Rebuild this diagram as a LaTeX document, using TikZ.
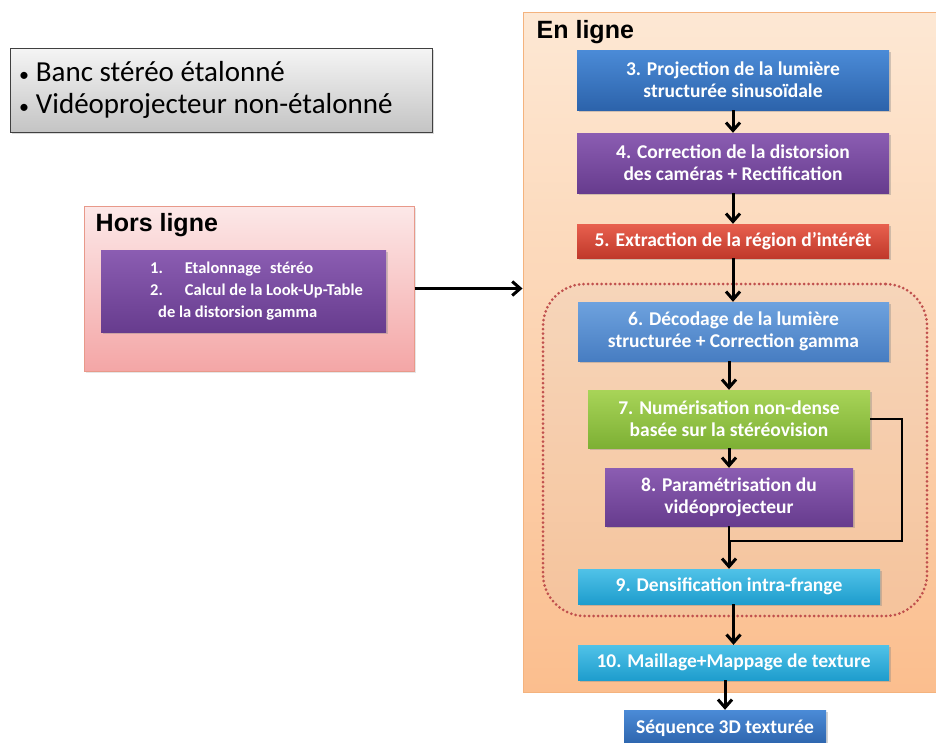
\documentclass[tikz,border=0pt]{standalone}
\usepackage{fontspec}
\setmainfont{Carlito}
\newfontfamily\headfont{Liberation Sans}
\usepackage{xcolor}
\usetikzlibrary{arrows.meta,calc,positioning,shadows}

\definecolor{infotop}{HTML}{F5F5F5}
\definecolor{infobot}{HTML}{C4C4C4}
\definecolor{offtop}{HTML}{FCE8E8}
\definecolor{offbot}{HTML}{F4A6A6}
\definecolor{offline}{HTML}{E8998A}
\definecolor{ontop}{HTML}{FDE8D4}
\definecolor{onbot}{HTML}{FBBE8E}
\definecolor{online}{HTML}{F4B37E}
\definecolor{dotred}{HTML}{C0504D}
\definecolor{bluetop}{HTML}{4B8BD7}
\definecolor{bluebot}{HTML}{2C63AB}
\definecolor{purtop}{HTML}{8B5DB2}
\definecolor{purbot}{HTML}{673C8E}
\definecolor{redtop}{HTML}{E8604E}
\definecolor{redbot}{HTML}{C0392B}
\definecolor{lbluetop}{HTML}{6EA2DE}
\definecolor{lbluebot}{HTML}{477DC2}
\definecolor{greentop}{HTML}{A8D458}
\definecolor{greenbot}{HTML}{7DB034}
\definecolor{cyantop}{HTML}{50C2E8}
\definecolor{cyanbot}{HTML}{1E9DCD}

\newcommand{\smallbullet}{{\fontsize{20}{20}\selectfont•}\hspace{7pt}}

\begin{document}
\begin{tikzpicture}[x=1pt,y=-1pt,
  stage/.style={rectangle,inner sep=0pt,align=flush center,text=white,
    font=\bfseries\fontsize{19.5}{22}\selectfont,
    drop shadow={opacity=0.35,shadow xshift=1.5pt,shadow yshift=-1.5pt}},
  panel/.style={rectangle,inner sep=0pt,line width=1pt},
  heading/.style={font=\headfont\bfseries\fontsize{25}{28}\selectfont,anchor=north west,inner sep=0pt},
  arr/.style={-{Straight Barb[length=8pt,width=14pt]},line width=3pt},
  link/.style={line width=2.5pt}]
  \useasboundingbox (0,0) rectangle (936,742);

  % settings
  \node[panel,draw=black!75,top color=infotop,bottom color=infobot,minimum width=422,minimum height=84,
    text width=404,align=flush left,font=\fontsize{29}{32}\selectfont,
    drop shadow={opacity=0.3,shadow xshift=2pt,shadow yshift=-2pt}] (info) at (221,90)
    {\smallbullet Banc stéréo étalonné\\\smallbullet Vidéoprojecteur non-étalonné};

  % offline part
  \node[panel,draw=offline,top color=offtop,bottom color=offbot,minimum width=330,minimum height=165,
    drop shadow={opacity=0.2,shadow xshift=2pt,shadow yshift=-2pt}] (offline) at (249,288.5) {};
  \node[heading] (offtitle) at ([xshift=12pt,yshift=-8pt]offline.north west) {Hors ligne};
  \node[stage,top color=purtop,bottom color=purbot,minimum width=285,minimum height=82,align=flush left,
    font=\bfseries\fontsize{16.5}{22}\selectfont] (calib) at (243.5,291)
    {\hspace*{26pt}1.\hspace{22pt}Etalonnage\hspace{9pt}stéréo\\
     \hspace*{26pt}2.\hspace{22pt}Calcul de la Look-Up-Table\\
     \hspace*{34pt}de la distorsion gamma};

  % online part
  \node[panel,draw=online,top color=ontop,bottom color=onbot,minimum width=425,minimum height=680] (online) at (735.5,352) {};
  \node[heading] (ontitle) at ([xshift=14pt,yshift=-9pt]online.north west) {En ligne};
  \node[rectangle,rounded corners=42pt,fill=white!80!black,fill opacity=0.12,draw=dotred,line width=3pt,
    dash pattern=on 0pt off 4.5pt,line cap=round,minimum width=384,minimum height=332] (loop) at (735,450) {};

  \node[stage,top color=bluetop,bottom color=bluebot,minimum width=312,minimum height=60] (proj) at (733,80)
    {3. Projection de la lumière\\structurée sinusoïdale};
  \node[stage,top color=purtop,bottom color=purbot,minimum width=312,minimum height=60] (corr) at (733,163)
    {4. Correction de la distorsion\\des caméras + Rectification};
  \node[stage,top color=redtop,bottom color=redbot,minimum width=312,minimum height=34] (roi) at (733,241)
    {5. Extraction de la région d’intérêt};
  \node[stage,top color=lbluetop,bottom color=lbluebot,minimum width=311,minimum height=59] (decod) at (733.5,331.5)
    {6. Décodage de la lumière\\structurée + Correction gamma};
  \node[stage,top color=greentop,bottom color=greenbot,minimum width=282,minimum height=58] (sparse) at (729,419)
    {7. Numérisation non-dense\\basée sur la stéréovision};
  \node[stage,top color=purtop,bottom color=purbot,minimum width=248,minimum height=58] (param) at (729,497)
    {8. Paramétrisation du\\vidéoprojecteur};
  \node[stage,top color=cyantop,bottom color=cyanbot,minimum width=302,minimum height=35] (dens) at (729,586.5)
    {9. Densification intra-frange};
  \node[stage,top color=cyantop,bottom color=cyanbot,minimum width=311,minimum height=35] (mesh) at (733.5,662.5)
    {10. Maillage+Mappage de texture};
  \node[stage,top color=bluetop,bottom color=bluebot,minimum width=202,minimum height=36] (result) at (725,728)
    {Séquence 3D texturée};

  % connectors
  \draw[arr] (offline.east) -- (offline.east -| online.west);
  \draw[arr] (proj.south) -- (proj.south |- corr.north);
  \draw[arr] (corr.south) -- (corr.south |- roi.north);
  \draw[arr] (roi.south) -- (roi.south |- decod.north);
  \draw[arr] (sparse.north |- decod.south) -- (sparse.north);
  \draw[arr] (sparse.south) -- (sparse.south |- param.north);
  \coordinate (join) at (729,541);
  \draw[link] (param.south) -- (join);
  \draw[link] (sparse.east) -- ++(32,0) |- (join);
  \draw[arr] (join) -- (join |- dens.north);
  \draw[arr] (mesh.north |- dens.south) -- (mesh.north);
  \draw[arr] (result.north |- mesh.south) -- (result.north);
\end{tikzpicture}
\end{document}
